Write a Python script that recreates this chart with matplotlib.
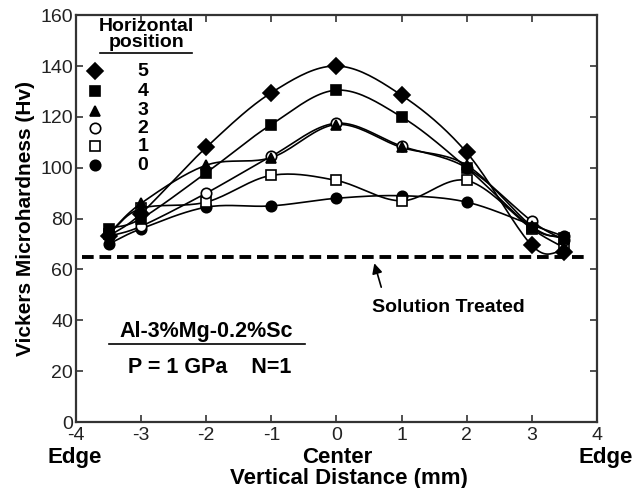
import numpy as np
import matplotlib
matplotlib.use('Agg')
from matplotlib import pyplot as plt

plt.rcParams['font.family'] = ['Liberation Sans', 'DejaVu Sans']
plt.rcParams['axes.unicode_minus'] = False

# vertical positions of the indents (mm)
distance = [-3.5, -3, -2, -1, 0, 1, 2, 3, 3.5]

# hardness (Hv) for each horizontal position
hv_pos5 = [73, 82, 108, 129.5, 140, 128.5, 106, 69.5, 67]
hv_pos4 = [76, 80, 98, 117, 130.5, 120, 100, 76.5, 72.5]
hv_pos3 = [74, 86, 101, 104, 117, 108, 101, 77, 72]
hv_pos2 = [73, 77, 90, 104.5, 117.5, 108.5, 100, 79, 71.5]
hv_pos1 = [74, 84, 86.5, 97, 95, 87, 95, 76, 68.5]
hv_pos0 = [70, 76, 84.5, 85, 88, 89, 86.5, 77.5, 73]

solution_treated = 65
pos_labels = ['5', '4', '3', '2', '1', '0']


def smooth(x, y, n=20):
    ''' Catmull-Rom curve through the points, only for drawing the line '''
    x = np.asarray(x, float)
    y = np.asarray(y, float)
    px = np.concatenate([[2*x[0]-x[1]], x, [2*x[-1]-x[-2]]])
    py = np.concatenate([[2*y[0]-y[1]], y, [2*y[-1]-y[-2]]])
    xs, ys = [], []
    t = np.linspace(0, 1, n, endpoint=False)
    for i in range(1, len(px)-2):
        for p, out in ((px, xs), (py, ys)):
            p0, p1, p2, p3 = p[i-1], p[i], p[i+1], p[i+2]
            out.append(0.5*((2*p1) + (-p0+p2)*t + (2*p0-5*p1+4*p2-p3)*t**2
                            + (-p0+3*p1-3*p2+p3)*t**3))
    xs.append([x[-1]])
    ys.append([y[-1]])
    return np.concatenate(xs), np.concatenate(ys)


fig = plt.figure(figsize=(6.33, 4.88), dpi=100)
ax = fig.add_axes([0.120, 0.135, 0.823, 0.834])

series = [hv_pos5, hv_pos4, hv_pos3, hv_pos2, hv_pos1, hv_pos0]
styles = [dict(marker='D', mfc='black', ms=8),
          dict(marker='s', mfc='black', ms=6.5),
          dict(marker='^', mfc='black', ms=7.5),
          dict(marker='o', mfc='white', ms=7.5),
          dict(marker='s', mfc='white', ms=7.5),
          dict(marker='o', mfc='black', ms=7.5)]

# lines first, markers on top (open markers cover lines)
for vals in series:
    sx, sy = smooth(distance, vals)
    ax.plot(sx, sy, color='black', lw=1.2, zorder=2)
for vals, st in zip(series[::-1], styles[::-1]):
    ax.plot(distance, vals, ls='none', mec='black', mew=1.2, zorder=3, **st)

# solution treated level
ax.plot([-3.9, 3.8], [solution_treated, solution_treated], color='black',
        ls=(0, (3, 1.5)), lw=2.8, zorder=1)
ax.annotate('', xy=(0.57, 63.5), xytext=(0.7, 52),
            arrowprops=dict(arrowstyle='-|>', color='black', lw=1.2,
                            mutation_scale=15))
ax.text(0.55, 45, 'Solution Treated', fontsize=14, fontweight='bold',
        ha='left', va='center')

# legend drawn by hand like the original
ax.text(-2.92, 155.5, 'Horizontal', fontsize=14, fontweight='bold',
        ha='center', va='center')
ax.text(-2.92, 149.3, 'position', fontsize=14, fontweight='bold',
        ha='center', va='center')
ax.plot([-3.63, -2.22], [145.0, 145.0], color='black', lw=1.2)
leg_y = [138, 130, 122.5, 115.5, 108.5, 101]
for yy, st, lab in zip(leg_y, styles, pos_labels):
    ax.plot([-3.7], [yy], ls='none', mec='black', mew=1.2, **st)
    ax.text(-2.97, yy, lab, fontsize=14, fontweight='bold',
            ha='center', va='center')

# alloy / processing box
ax.text(-2.0, 35.5, 'Al-3%Mg-0.2%Sc', fontsize=15.5, fontweight='bold',
        ha='center', va='center')
ax.plot([-3.49, -0.48], [30.7, 30.7], color='black', lw=1.2)
ax.text(-3.2, 21.5, 'P = 1 GPa    N=1', fontsize=15.5, fontweight='bold',
        ha='left', va='center')

ax.set_xlim(-4, 4)
ax.set_ylim(0, 160)
ax.set_xticks(range(-4, 5))
ax.set_yticks(range(0, 161, 20))
ax.tick_params(direction='in', length=5, width=1.2, labelsize=14,
               top=True, right=True, colors='#333333', labelcolor='#222222')
ax.tick_params(axis='y', pad=2)
ax.tick_params(axis='x', pad=3.5)
for sp in ax.spines.values():
    sp.set_linewidth(1.6)
    sp.set_color('#333333')

ax.set_ylabel('Vickers Microhardness (Hv)', fontsize=15, fontweight='bold',
              labelpad=4)
fig.text(0.118, 0.062, 'Edge', fontsize=16, fontweight='bold', ha='center',
         va='center')
fig.text(0.532, 0.062, 'Center', fontsize=16, fontweight='bold', ha='center',
         va='center')
fig.text(0.957, 0.062, 'Edge', fontsize=16, fontweight='bold', ha='center',
         va='center')
fig.text(0.552, 0.02, 'Vertical Distance (mm)', fontsize=16,
         fontweight='bold', ha='center', va='center')

plt.savefig('out.png', dpi=100)
plt.close()
